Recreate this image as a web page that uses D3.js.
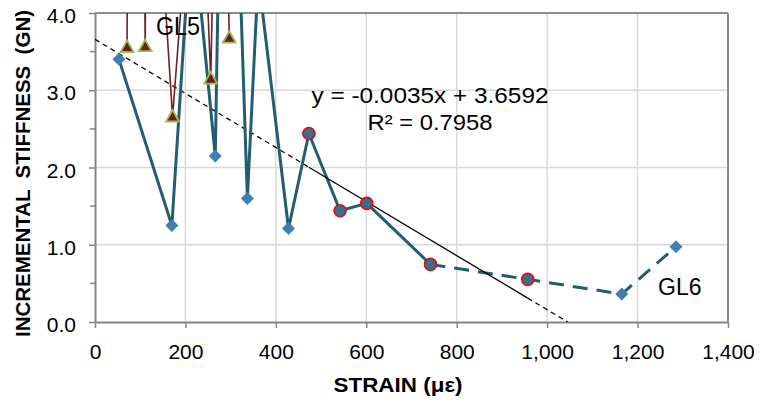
<!DOCTYPE html>
<html><head><meta charset="utf-8">
<script src="https://cdn.jsdelivr.net/npm/d3@7"></script>
<style>
html,body{margin:0;padding:0;background:#fff;}
text{font-family:"Liberation Sans",Arial,sans-serif;}
</style></head>
<body><div id="chart"></div>
<script>
// ---- data ----
const strainGL6 = [53, 170, 214, 266, 289, 337, 361, 428, 473, 542, 601, 742, 957, 1165, 1285];
const stiffGL6  = [3.40, 1.25, 5.25, 2.15, 10.0, 1.60, 4.48, 1.21, 2.44, 1.44, 1.535, 0.746, 0.552, 0.362, 0.975];
const dashFromIndex = 11; // segments after this point are dashed
const strainGL5 = [71, 80, 111, 115, 171.5, 229, 256, 277, 297];
const stiffGL5  = [3.56, 30, 3.57, 7.8, 2.66, 7.0, 3.15, 9.2, 3.68];
const gl5Markers = [0, 2, 4, 6, 8];
const strainFit = [473, 542, 601, 742, 957];
const stiffFit  = [2.44, 1.44, 1.535, 0.746, 0.552];
const trendSlope = -0.0035, trendIntercept = 3.6592;
const xTicks = [0, 200, 400, 600, 800, 1000, 1200, 1400];
const yTicks = [0, 1, 2, 3, 4];
const yMinor = [0.5, 1.5, 2.5, 3.5];
const labels = {eq: "y = -0.0035x + 3.6592", r2: "R\u00B2 = 0.7958", gl5: "GL5", gl6: "GL6",
  xTitle: "STRAIN (\u03BC\u03B5)", yTitle: "INCREMENTAL  STIFFNESS  (GN)"};

// ---- layout ----
const W = 761, H = 401;
const L = 95, R = 728, T = 13, B = 322;
const svg = d3.select("#chart").append("svg").attr("width", W).attr("height", H);
const x = d3.scaleLinear().domain([0, 1400]).range([L, R]);
const y = d3.scaleLinear().domain([0, 4]).range([B, T]);

svg.append("defs").append("clipPath").attr("id", "clip")
  .append("rect").attr("x", L).attr("y", T).attr("width", R - L).attr("height", B - T);

// gridlines
const grid = svg.append("g");
grid.selectAll("line.v").data(xTicks.slice(1)).join("line")
  .attr("x1", d => x(d)).attr("x2", d => x(d)).attr("y1", T).attr("y2", B)
  .attr("stroke", "#d9d9d9").attr("stroke-width", 1.5);
grid.selectAll("line.h").data(yTicks.slice(1)).join("line")
  .attr("x1", L).attr("x2", R).attr("y1", d => y(d)).attr("y2", d => y(d))
  .attr("stroke", "#d9d9d9").attr("stroke-width", 1.5);

// plot border top/right
svg.append("line").attr("x1", L).attr("x2", R).attr("y1", T).attr("y2", T).attr("stroke", "#8c8c8c").attr("stroke-width", 2);
svg.append("line").attr("x1", R).attr("x2", R).attr("y1", T).attr("y2", B).attr("stroke", "#8c8c8c").attr("stroke-width", 2);

// axes
const xAxis = svg.append("g").attr("transform", `translate(0,${B})`)
  .call(d3.axisBottom(x).tickValues(xTicks).tickFormat(d3.format(",")).tickSize(6).tickSizeOuter(0));
xAxis.select(".domain").attr("stroke", "#868686").attr("stroke-width", 2);
xAxis.selectAll(".tick line").attr("stroke", "#868686").attr("stroke-width", 1.5);
xAxis.selectAll(".tick text").attr("y", 37).attr("dy", 0).attr("fill", "#000")
  .style("font-size", "21px");

const yAxis = svg.append("g").attr("transform", `translate(${L},0)`)
  .call(d3.axisLeft(y).tickValues(yTicks).tickFormat(d3.format(".1f")).tickSize(6).tickSizeOuter(0));
yAxis.select(".domain").attr("stroke", "#868686").attr("stroke-width", 2);
yAxis.selectAll(".tick line").attr("stroke", "#868686").attr("stroke-width", 1.5);
yAxis.selectAll(".tick text").attr("x", -19).attr("dy", 0).attr("y", 9.5).attr("fill", "#000")
  .style("font-size", "21px");
svg.append("g").selectAll("line").data(yMinor).join("line")
  .attr("x1", L - 5).attr("x2", L).attr("y1", d => y(d)).attr("y2", d => y(d))
  .attr("stroke", "#868686").attr("stroke-width", 1.5);

const plot = svg.append("g").attr("clip-path", "url(#clip)");

// trendline
const xEnd = -trendIntercept / trendSlope;
const tl = d3.line().x(d => x(d)).y(d => y(trendSlope * d + trendIntercept));
const fitMin = d3.min(strainFit), fitMax = d3.max(strainFit);
plot.append("path").attr("d", tl([0, fitMin])).attr("stroke", "#000").attr("stroke-width", 1.3)
  .attr("stroke-dasharray", "5,4").attr("fill", "none");
plot.append("path").attr("d", tl([fitMax, xEnd])).attr("stroke", "#000").attr("stroke-width", 1.3)
  .attr("stroke-dasharray", "5,4").attr("fill", "none");

// GL5 series
const gl5 = strainGL5.map((s, i) => [s, stiffGL5[i]]);
plot.append("path").attr("d", d3.line().x(d => x(d[0])).y(d => y(d[1]))(gl5))
  .attr("stroke", "#6f2020").attr("stroke-width", 1.6).attr("fill", "none");

// GL6 series
const gl6 = strainGL6.map((s, i) => [s, stiffGL6[i]]);
const line6 = d3.line().x(d => x(d[0])).y(d => y(d[1]));
plot.append("path").attr("d", line6(gl6.slice(0, dashFromIndex + 1)))
  .attr("stroke", "#215e6f").attr("stroke-width", 3).attr("fill", "none").attr("stroke-linejoin", "round");
plot.append("path").attr("d", line6(gl6.slice(dashFromIndex)))
  .attr("stroke", "#215e6f").attr("stroke-width", 3).attr("fill", "none").attr("stroke-dasharray", "15,9");

// solid trend portion (over the data)
plot.append("path").attr("d", tl([fitMin, fitMax])).attr("stroke", "#000").attr("stroke-width", 1.3).attr("fill", "none");

// GL6 diamonds
plot.selectAll("path.dia").data(gl6).join("path")
  .attr("transform", d => `translate(${x(d[0])},${y(d[1])})`)
  .attr("d", "M0,-6.5L6.5,0L0,6.5L-6.5,0Z").attr("fill", "#3f7fb4");

// circled fit points
plot.selectAll("circle.fit").data(strainFit.map((s, i) => [s, stiffFit[i]])).join("circle")
  .attr("cx", d => x(d[0])).attr("cy", d => y(d[1])).attr("r", 6)
  .attr("fill", "#2f7390").attr("stroke", "#ff0000").attr("stroke-width", 1.6);

// GL5 triangles
plot.selectAll("path.tri").data(gl5Markers.map(i => gl5[i])).join("path")
  .attr("transform", d => `translate(${x(d[0])},${y(d[1])})`)
  .attr("d", "M0,-6.5L6.5,5L-6.5,5Z").attr("fill", "#6f1c1c")
  .attr("stroke", "#9bbb59").attr("stroke-width", 1.8).attr("stroke-linejoin", "miter");

// labels
svg.append("text").attr("x", 311.5).attr("y", 103).attr("textLength", 237).attr("lengthAdjust", "spacingAndGlyphs")
  .style("font-size", "22px").text(labels.eq);
svg.append("text").attr("x", 367.5).attr("y", 130).attr("textLength", 125).attr("lengthAdjust", "spacingAndGlyphs")
  .style("font-size", "22px").text(labels.r2);
svg.append("text").attr("x", 156).attr("y", 35).attr("textLength", 44).attr("lengthAdjust", "spacingAndGlyphs")
  .style("font-size", "25px").text(labels.gl5);
svg.append("text").attr("x", 658).attr("y", 295).attr("textLength", 43.5).attr("lengthAdjust", "spacingAndGlyphs")
  .style("font-size", "23px").text(labels.gl6);

svg.append("text").attr("x", 398).attr("y", 392).attr("text-anchor", "middle")
  .attr("textLength", 129).attr("lengthAdjust", "spacingAndGlyphs")
  .style("font-size", "21px").style("font-weight", "bold").text(labels.xTitle);
svg.append("text").attr("transform", "translate(30,173.5) rotate(-90)").attr("text-anchor", "middle")
  .attr("textLength", 327).attr("lengthAdjust", "spacingAndGlyphs")
  .style("white-space", "pre").attr("xml:space", "preserve")
  .style("font-size", "20px").style("font-weight", "bold").text(labels.yTitle);
</script></body></html>
